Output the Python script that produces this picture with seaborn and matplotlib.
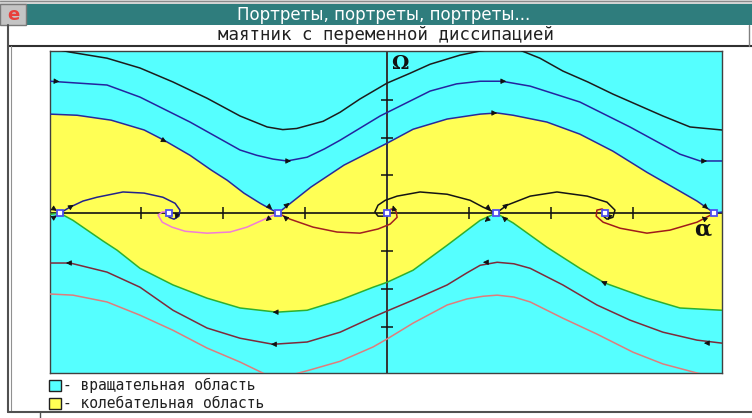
import numpy as np
import matplotlib
matplotlib.use('Agg')
import matplotlib.pyplot as plt
import seaborn as sns
from matplotlib.lines import Line2D
from matplotlib.patches import Rectangle

# ---------------- data (alpha in rad, Omega) ----------------
# upper rotation trajectories
top1_a = [-9.70, -9.12, -8.06, -7.11, -6.16, -5.18, -4.23, -3.45, -3.00, -2.60, -1.84, -1.35, -0.78, 0.00, 0.66, 1.24, 2.10, 2.68, 3.25, 3.83, 4.40, 5.06, 5.78, 6.50, 7.22, 7.94, 8.72, 9.64]
top1_w = [4.37, 4.26, 4.10, 3.84, 3.47, 3.04, 2.57, 2.28, 2.21, 2.24, 2.43, 2.67, 3.02, 3.44, 3.70, 3.94, 4.18, 4.29, 4.37, 4.31, 4.10, 3.76, 3.47, 3.15, 2.86, 2.57, 2.28, 2.20]
top2_a = [-9.70, -8.06, -7.11, -5.67, -4.23, -3.75, -3.28, -2.88, -2.30, -1.80, -1.35, -0.20, 1.24, 2.00, 2.68, 3.31, 4.12, 5.55, 6.99, 8.43, 9.01, 9.64]
top2_w = [3.49, 3.39, 3.07, 2.41, 1.67, 1.53, 1.43, 1.38, 1.48, 1.70, 1.93, 2.57, 3.23, 3.42, 3.49, 3.49, 3.36, 2.94, 2.28, 1.56, 1.38, 1.38]
# lower rotation trajectories
bot2_a = [-9.70, -9.12, -8.06, -7.11, -6.16, -5.18, -4.23, -3.28, -2.30, -1.35, -0.40, 0.00, 0.75, 1.73, 2.30, 2.68, 3.17, 3.65, 4.12, 5.06, 6.04, 6.99, 7.94, 8.92, 9.64]
bot2_w = [-1.32, -1.32, -1.56, -1.96, -2.57, -3.04, -3.31, -3.47, -3.41, -3.15, -2.75, -2.59, -2.30, -1.90, -1.58, -1.38, -1.30, -1.34, -1.46, -1.90, -2.43, -2.83, -3.15, -3.36, -3.44]
bot1_a = [-9.70, -9.04, -8.06, -7.11, -6.16, -5.18, -4.23, -3.51, -2.79, -2.22, -1.35, -0.40, 0.00, 0.75, 1.73, 2.30, 2.76, 3.17, 3.65, 4.12, 5.06, 6.04, 7.08, 7.94, 8.92, 9.64]
bot1_w = [-2.14, -2.17, -2.35, -2.70, -3.10, -3.57, -3.94, -4.26, -4.29, -4.15, -3.92, -3.54, -3.33, -2.91, -2.43, -2.27, -2.20, -2.17, -2.22, -2.35, -2.78, -3.20, -3.68, -3.99, -4.23, -4.37]
# separatrix bounding the oscillation region from above
upper_a = [-9.70, -8.92, -7.94, -6.99, -6.42, -5.67, -5.06, -4.60, -4.12, -3.65, -3.14, -2.19, -1.24, 0.00, 0.75, 1.73, 2.68, 3.17, 3.63, 4.60, 5.55, 6.50, 7.48, 8.43, 8.92, 9.42, 9.66]
upper_w = [2.62, 2.59, 2.46, 2.20, 1.93, 1.53, 1.14, 0.87, 0.53, 0.26, 0.00, 0.69, 1.27, 1.85, 2.22, 2.49, 2.62, 2.65, 2.59, 2.41, 2.09, 1.64, 1.08, 0.58, 0.32, 0.00, 0.03]
# separatrix bounding the oscillation region from below
lower_a = [-9.70, -9.42, -9.04, -8.55, -8.17, -7.77, -7.11, -6.16, -5.18, -4.23, -3.17, -2.30, -1.35, -0.40, 0.00, 0.75, 1.73, 2.68, 3.14, 3.63, 4.60, 5.55, 6.27, 7.48, 8.43, 9.64]
lower_w = [-0.03, 0.00, -0.19, -0.50, -0.74, -0.98, -1.46, -1.90, -2.25, -2.51, -2.62, -2.57, -2.30, -1.96, -1.83, -1.51, -0.85, -0.19, 0.00, -0.26, -0.90, -1.46, -1.85, -2.25, -2.51, -2.57]
# separatrix loops near the alpha axis
loopA_a = [-9.42, -9.12, -8.75, -8.35, -7.60, -6.99, -6.45, -6.10, -5.96, -5.99, -6.13, -6.27, -6.36, -6.30]
loopA_w = [0.00, 0.16, 0.32, 0.42, 0.56, 0.53, 0.42, 0.26, 0.08, -0.08, -0.16, -0.11, 0.00, 0.01]
loopB_a = [-6.30, -6.47, -6.59, -6.47, -6.19, -5.81, -5.18, -4.52, -4.03, -3.45, -3.14]
loopB_w = [0.03, 0.03, -0.05, -0.24, -0.37, -0.48, -0.53, -0.50, -0.37, -0.13, 0.00]
loopC_a = [-3.14, -2.79, -2.13, -1.44, -0.78, -0.26, 0.09, 0.29, 0.26, 0.12, 0.03]
loopC_w = [0.00, -0.16, -0.37, -0.50, -0.53, -0.42, -0.29, -0.11, 0.05, 0.11, 0.03]
loopD_a = [0.00, -0.08, -0.26, -0.35, -0.26, -0.05, 0.29, 0.95, 1.73, 2.39, 2.76, 3.14]
loopD_w = [0.00, -0.08, -0.08, 0.03, 0.21, 0.34, 0.45, 0.56, 0.50, 0.34, 0.16, 0.00]
loopE_a = [3.14, 3.45, 4.12, 4.89, 5.76, 6.33, 6.56, 6.50, 6.33, 6.19, 6.27]
loopE_w = [0.00, 0.21, 0.45, 0.56, 0.45, 0.29, 0.08, -0.11, -0.16, -0.05, 0.00]
loopF_a = [9.42, 8.92, 8.14, 7.48, 6.71, 6.22, 6.02, 6.04, 6.19, 6.30]
loopF_w = [0.00, -0.24, -0.45, -0.53, -0.40, -0.24, -0.08, 0.08, 0.11, 0.03]
# equilibria
saddle_a = [-9.42, -3.14, 3.14, 9.42]
focus_a = [-6.28, 0.00, 6.28]
# axis ticks
xtick_a = [-7.07, -4.71, -2.36, 2.36, 4.71, 7.07]
ytick_w = [-3, -2, -1, 1, 2, 3]
# direction arrows: (alpha, Omega, d_alpha, d_Omega)
arrows = [(-9.55, 3.49, 1, -0.05), (-2.88, 1.38, 1, 0), (3.31, 3.49, 1, 0), (9.09, 1.38, 1, 0),
          (-6.45, 1.93, 1, -0.5), (3.05, 2.65, 1, 0),
          (-3.17, -2.62, -1, 0), (6.27, -1.85, -1, 0.41),
          (-9.12, -1.32, -1, 0), (-3.22, -3.47, -1, 0), (2.88, -1.30, -1, 0), (9.24, -3.44, -1, 0),
          (-9.12, 0.16, 1, 0.6), (-3.40, 0.18, 1, -0.8), (-2.90, 0.20, 1, 0.8),
          (-3.40, -0.14, -1, -0.8), (-2.90, -0.14, -1, 0.8),
          (2.90, 0.15, 1, -0.8), (3.40, 0.18, 1, 0.8), (2.90, -0.16, -1, -0.8), (3.40, -0.16, -1, 0.8),
          (9.15, 0.18, 1, -0.8), (9.15, -0.16, -1, 0.8), (-9.60, 0.12, 1, -0.6), (-9.60, -0.12, 1, 0.6),
          (-6.05, -0.05, -0.3, -1), (0.20, 0.10, -0.3, 1), (6.40, -0.08, -0.3, -1)]

# ---------------- figure ----------------
sns.set_theme(style='white')
plt.rcParams['font.family'] = ['DejaVu Sans']
W, H = 752, 418
fig = plt.figure(figsize=(W / 100, H / 100), dpi=100, facecolor='white')

def fx(px):
    return px / W

def fy(py):
    return 1 - py / H

# window chrome
fig.add_artist(Rectangle((0, fy(4)), 1, 4 / H, transform=fig.transFigure, facecolor='#D4D4D4', edgecolor='none'))
fig.add_artist(Line2D([0, 1], [fy(1), fy(1)], transform=fig.transFigure, color='#8A8A8A', lw=0.8))
fig.add_artist(Rectangle((fx(27), fy(25)), 1 - fx(27), 21 / H, transform=fig.transFigure, facecolor='#2F7D7D', edgecolor='none'))
fig.add_artist(Rectangle((0, fy(25)), fx(26), 21 / H, transform=fig.transFigure, facecolor='#C4C4C4', edgecolor='#7A7A7A', lw=1))
fig.text(fx(13), fy(15), 'e', color='#E8403C', fontsize=13, ha='center', va='center', fontweight='bold')
fig.text(fx(384), fy(15), 'Портреты, портреты, портреты...', color='white', fontsize=12, ha='center', va='center')
fig.text(fx(386), fy(35.5), 'маятник с переменной диссипацией', color='#202020', fontsize=12.5,
         family='DejaVu Sans Mono', ha='center', va='center')
for (x0, y0, x1, y1, c, lw) in [(8, 46, 752, 46, '#303030', 1.5), (8, 25, 8, 412, '#505050', 1.5),
                                 (11, 46, 11, 412, '#909090', 0.8), (8, 412, 752, 412, '#505050', 1.5),
                                 (749, 25, 749, 46, '#808080', 1.0), (40, 412, 40, 418, '#505050', 1.0)]:
    fig.add_artist(Line2D([fx(x0), fx(x1)], [fy(y0), fy(y1)], transform=fig.transFigure, color=c, lw=lw))

# legend
for (y0, col, lab) in [(380, '#55FFFF', '- вращательная область'), (398, '#FFFF55', '- колебательная область')]:
    fig.add_artist(Rectangle((fx(49), fy(y0 + 11)), 12 / W, 11 / H, transform=fig.transFigure,
                             facecolor=col, edgecolor='#202020', lw=1))
    fig.text(fx(63), fy(y0 + 5.5), lab, color='#202020', fontsize=10.5, family='DejaVu Sans Mono',
             ha='left', va='center')

ax = fig.add_axes([fx(50), fy(373), 672 / W, 322 / H])
ax.set_facecolor('#55FFFF')
ax.set_xlim(-9.70, 9.64)
ax.set_ylim(-4.23, 4.29)

# oscillation region
poly_a = upper_a + lower_a[::-1]
poly_w = upper_w + lower_w[::-1]
ax.fill(poly_a, poly_w, color='#FFFF55', lw=0, zorder=1)

curves = [(top1_a, top1_w, '#1C1C1C'), (top2_a, top2_w, '#2424A0'),
          (upper_a, upper_w, '#28289C'), (lower_a, lower_w, '#2EB02E'),
          (bot2_a, bot2_w, '#7E2A3A'), (bot1_a, bot1_w, '#E07C7C'),
          (loopA_a, loopA_w, '#22228C'), (loopB_a, loopB_w, '#F07CD8'),
          (loopC_a, loopC_w, '#A22020'), (loopD_a, loopD_w, '#141414'),
          (loopE_a, loopE_w, '#141414'), (loopF_a, loopF_w, '#A01A1A')]
for (a, w, c) in curves:
    sns.lineplot(x=a, y=w, sort=False, estimator=None, color=c, lw=1.1, ax=ax, zorder=3)

# axes of the phase plane
ax.axhline(0, color='#111111', lw=1.2, zorder=2)
ax.axvline(0, color='#333333', lw=1.4, zorder=2)
ax.plot(xtick_a, [0] * len(xtick_a), ls='none', marker='|', ms=8, mew=1.1, color='#111111', zorder=2)
ax.plot([0] * len(ytick_w), ytick_w, ls='none', marker='_', ms=8, mew=1.1, color='#111111', zorder=2)

for (a, w, da, dw) in arrows:
    n = np.hypot(da * 34.75, dw * 37.8)
    ax.annotate('', xy=(a + da * 34.75 / n * 0.12, w + dw * 37.8 / n * 0.11),
                xytext=(a, w),
                arrowprops=dict(arrowstyle='-|>', color='#111111', lw=0.6, mutation_scale=8,
                                shrinkA=0, shrinkB=0), zorder=5)

ax.plot(saddle_a, [0] * len(saddle_a), ls='none', marker='s', ms=5, mfc='white', mec='#5050F0', mew=1.3, zorder=6)
ax.plot(focus_a, [0] * len(focus_a), ls='none', marker='s', ms=5, mfc='white', mec='#5050F0', mew=1.3, zorder=6)

ax.text(0.37, 3.94, 'Ω', fontsize=14, fontweight='bold', family='DejaVu Serif', color='#111111',
        ha='center', va='center', zorder=7)
ax.text(9.07, -0.42, 'α', fontsize=16, fontweight='bold', family='DejaVu Serif', color='#111111',
        ha='center', va='center', zorder=7)

ax.set_xticks([])
ax.set_yticks([])
for s in ax.spines.values():
    s.set_color('#404040')
    s.set_linewidth(1.0)
    s.set_visible(True)

fig.savefig('out.png', dpi=100, facecolor='white')
